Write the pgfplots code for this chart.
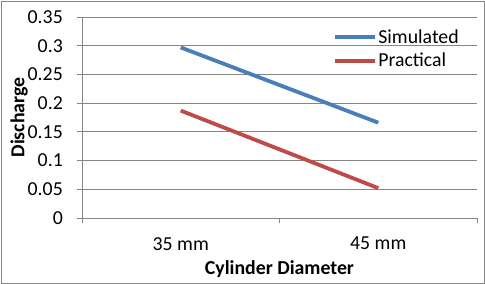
\documentclass[border=0pt]{standalone}
\usepackage{pgfplots}
\pgfplotsset{compat=1.18}
\usepackage{fontspec}
\setmainfont{Carlito}
\definecolor{simblue}{HTML}{4A7EBB}
\definecolor{pracred}{HTML}{BE4B48}
\definecolor{gridgray}{HTML}{868686}
\begin{document}
\begin{tikzpicture}
\useasboundingbox (-82pt,-66pt) rectangle (403pt,218pt);
\draw[gridgray, line width=0.9pt] (-81pt,-65pt) rectangle (402pt,217pt);
\begin{axis}[
  at={(0pt,0pt)}, anchor=south west,
  scale only axis, width=395pt, height=201pt,
  font=\fontsize{19.8}{22}\selectfont,
  xmin=-0.5, xmax=1.5, ymin=0, ymax=0.35,
  ytick={0,0.05,...,0.35},
  xtick={-0.5,0.5,1.5}, xticklabels={},
  extra x ticks={0,1}, extra x tick labels={35 mm,45 mm},
  extra x tick style={major tick length=0pt, grid=none,
     xticklabel style={anchor=center, yshift=-25.7pt}},
  tick align=outside, tick pos=left, major tick length=5pt,
  axis x line*=bottom, axis y line*=left,
  axis line style={gridgray, line width=0.9pt, -},
  every tick/.style={gridgray, line width=0.9pt},
  ymajorgrids, grid style={gridgray, line width=0.9pt},
  /pgf/number format/assume math mode=true,
  /pgf/number format/.cd, fixed, precision=2, /pgfplots/.cd,
  yticklabel style={anchor=east, inner sep=0pt, xshift=-14pt},
  xlabel={\bfseries Cylinder Diameter},
  ylabel={\bfseries Discharge},
  xlabel style={at={(axis description cs:0.5,0)}, anchor=center, yshift=-50.7pt},
  ylabel style={at={(axis description cs:-0.1595,0.5)}, anchor=center},
  legend style={draw=none, fill=none, at={(rel axis cs:0.635,0.945)}, anchor=north west,
     inner sep=0pt, row sep=5pt, font=\fontsize{19.8}{22}\selectfont,
     nodes={inner sep=1.5pt}},
  legend cell align=left,
  legend image code/.code={\draw[#1] (0pt,0pt) -- (40pt,0pt);},
]
\addplot[simblue, line width=3.8pt] coordinates {(0,0.297) (1,0.166)};
\addlegendentry{Simulated}
\addplot[pracred, line width=3.8pt] coordinates {(0,0.187) (1,0.052)};
\addlegendentry{Practical}
\end{axis}
\end{tikzpicture}
\end{document}
